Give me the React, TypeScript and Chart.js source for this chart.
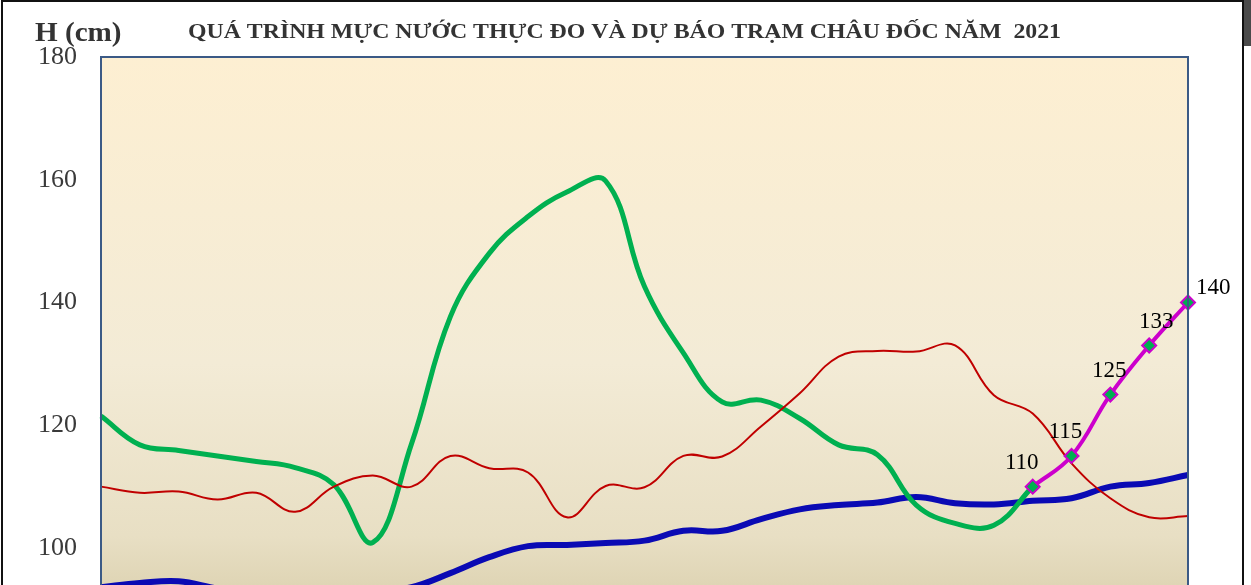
import { useEffect, useRef } from "react";
import { Chart, registerables } from "chart.js";

Chart.register(...registerables);

const TITLE = "QUÁ TRÌNH MỰC NƯỚC THỰC ĐO VÀ DỰ BÁO TRẠM CHÂU ĐỐC NĂM  2021";
const Y_UNIT = "H (cm)";

const days = [
  "1", "2", "3", "4", "5", "6", "7", "8", "9", "10",
  "11", "12", "13", "14", "15", "16", "17", "18", "19", "20",
  "21", "22", "23", "24", "25", "26", "27", "28", "29",
];

// green: observed this year
const observed = [
  121.5, 116.8, 115.9, 115.0, 114.1, 113.1, 110.3, 100.9, 117.0, 137.7,
  148.0, 154.0, 158.0, 159.8, 142.6, 131.8, 123.8, 124.1, 121.1, 116.8,
  115.2, 107.0, 104.0, 103.7, 110.0, null, null, null, null,
];

// red: same period previous year
const previousYear = [
  110.0, 109.0, 109.2, 107.9, 109.0, 105.9, 110.0, 111.8, 110.0, 115.0,
  113.0, 112.3, 105.0, 110.1, 109.9, 115.0, 114.9, 119.8, 125.2, 131.2,
  132.1, 132.0, 133.0, 124.9, 121.9, 113.8, 108.1, 105.0, 105.2,
];

// blue: multi-year average
const average = [
  93.6, 94.3, 94.6, 93.4, 92.6, 92.2, 92.2, 92.7, 93.6, 95.9,
  98.5, 100.3, 100.5, 100.8, 101.2, 102.8, 102.8, 104.7, 106.3, 107.0,
  107.4, 108.3, 107.3, 107.1, 107.7, 108.1, 110.0, 110.6, 111.9,
];

// magenta: forecast
const forecast = [
  null, null, null, null, null, null, null, null, null, null,
  null, null, null, null, null, null, null, null, null, null,
  null, null, null, null, 110, 115, 125, 133, 140,
];

const Y_MIN = 80;
const Y_MAX = 180;
const Y_STEP = 20;

// horizontal nudges of the forecast labels (style only)
const LABEL_DX = [-11, -6, -1, 7];

const decorPlugin = {
  id: "decor",
  beforeDraw(chart: any) {
    const { ctx, chartArea, width, height } = chart;
    ctx.save();
    ctx.fillStyle = "#ffffff";
    ctx.fillRect(0, 0, width, height);
    const g = ctx.createLinearGradient(0, chartArea.top, 0, chartArea.bottom);
    g.addColorStop(0, "#FDEFD2");
    g.addColorStop(0.5, "#F3EBD6");
    g.addColorStop(0.78, "#E8DFC4");
    g.addColorStop(0.86, "#DFD5B5");
    g.addColorStop(1, "#D6CBA8");
    ctx.fillStyle = g;
    ctx.fillRect(chartArea.left, chartArea.top, chartArea.right - chartArea.left, chartArea.bottom - chartArea.top);
    ctx.restore();
  },
  afterDatasetsDraw(chart: any) {
    const { ctx, chartArea } = chart;
    ctx.save();
    ctx.strokeStyle = "#3B5A86";
    ctx.lineWidth = 2;
    ctx.strokeRect(chartArea.left, chartArea.top, chartArea.right - chartArea.left, chartArea.bottom - chartArea.top);

    const dsIndex = chart.data.datasets.findIndex((d: any) => d.id === "forecast");
    const meta = chart.getDatasetMeta(dsIndex);
    const ds = chart.data.datasets[dsIndex];
    ctx.font = "23px 'Liberation Serif', serif";
    ctx.fillStyle = "#000000";
    ctx.textBaseline = "middle";
    const n = ds.data.length;
    let k = 0;
    meta.data.forEach((pt: any, i: number) => {
      const v = ds.data[i];
      if (v == null) return;
      if (i === n - 1) {
        ctx.textAlign = "left";
        ctx.fillText(String(v), pt.x + 8, pt.y - 15);
      } else {
        ctx.textAlign = "center";
        ctx.fillText(String(v), pt.x + (LABEL_DX[k] ?? 0), pt.y - 24);
      }
      k++;
    });
    ctx.restore();
  },
  afterDraw(chart: any) {
    const { ctx, chartArea, width, height } = chart;
    ctx.save();
    ctx.fillStyle = "#333333";
    ctx.textBaseline = "alphabetic";
    ctx.textAlign = "left";
    ctx.font = "bold 28px 'Liberation Serif', serif";
    ctx.save();
    ctx.translate(35, 41);
    ctx.scale(1.04, 1);
    ctx.fillText(Y_UNIT, 0, 0);
    ctx.restore();

    ctx.textAlign = "center";
    ctx.font = "bold 20px 'Liberation Serif', serif";
    ctx.save();
    ctx.translate(624.5, 38);
    ctx.scale(1.19, 1);
    ctx.fillText(TITLE, 0, 0);
    ctx.restore();

    ctx.strokeStyle = "#111111";
    ctx.lineWidth = 2;
    ctx.strokeRect(2, 1, 1241, height + 10);
    ctx.fillStyle = "#ffffff";
    ctx.fillRect(1244, 0, width - 1244, height);
    ctx.fillStyle = "#4a4a4a";
    ctx.fillRect(1244, 0, width - 1244, 46);
    ctx.restore();
  },
};

export default function App() {
  const ref = useRef<HTMLCanvasElement | null>(null);

  useEffect(() => {
    document.body.style.margin = "0";
    const canvas = ref.current;
    if (!canvas) return;
    const chart = new Chart(canvas, {
      type: "line",
      data: {
        labels: days,
        datasets: [
          {
            id: "forecast",
            label: "Dự báo",
            data: forecast,
            borderColor: "#CC00CC",
            backgroundColor: "#00B050",
            borderWidth: 4,
            pointStyle: "rectRot",
            pointRadius: 7,
            pointBorderWidth: 2,
            pointBorderColor: "#CC00CC",
            pointBackgroundColor: "#00B050",
            tension: 0.4,
            order: 0,
          } as any,
          {
            label: "Năm trước",
            data: previousYear,
            borderColor: "#C00000",
            borderWidth: 2,
            pointRadius: 0,
            tension: 0.4,
            order: 1,
          },
          {
            label: "Năm 2021",
            data: observed,
            borderColor: "#00B050",
            borderWidth: 5,
            pointRadius: 0,
            tension: 0.4,
            order: 2,
          },
          {
            label: "Trung bình nhiều năm",
            data: average,
            borderColor: "#0A0AB4",
            borderWidth: 6,
            pointRadius: 0,
            tension: 0.4,
            order: 3,
          },
        ],
      },
      options: {
        animation: false,
        responsive: false,
        maintainAspectRatio: false,
        spanGaps: false,
        layout: { padding: { top: 57, right: 63, left: 0, bottom: 0 } },
        plugins: {
          legend: { display: false },
          tooltip: { enabled: false },
          title: { display: false },
        },
        scales: {
          x: {
            type: "category",
            offset: false,
            grid: { display: false, drawTicks: false },
            border: { display: false },
            ticks: { display: false },
            afterFit: (s: any) => {
              s.height = 49.25;
            },
          },
          y: {
            min: Y_MIN,
            max: Y_MAX,
            grid: { display: false, drawTicks: false },
            border: { display: false },
            ticks: {
              stepSize: Y_STEP,
              padding: 24,
              color: "#3a3a3a",
              font: { family: "'Liberation Serif', serif", size: 26 },
            },
            afterFit: (s: any) => {
              s.width = 101;
            },
          },
        },
      },
      plugins: [decorPlugin],
    });
    return () => chart.destroy();
  }, []);

  return (
    <div style={{ width: 1251, height: 585, overflow: "hidden", position: "relative" }}>
      <canvas ref={ref} width={1251} height={720} style={{ display: "block" }} />
    </div>
  );
}
